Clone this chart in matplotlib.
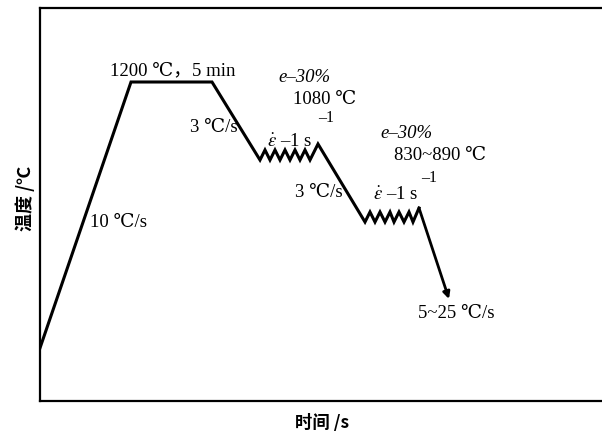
import matplotlib
matplotlib.use("Agg")
import matplotlib.pyplot as plt

plt.rcParams['mathtext.fontset'] = 'stix'
serif = ['Liberation Serif', 'DejaVu Serif', 'Noto Sans CJK SC']
cjk = ['Noto Sans CJK SC', 'DejaVu Sans']

# schematic time / temperature path (arbitrary units)
time = [0, 91, 172, 220, 225, 230, 235, 240, 245, 250, 255, 260, 265, 270, 278,
        325, 330, 335, 340, 345, 350, 354, 359, 364, 369, 373, 379]
temp = [53, 319, 319, 241, 251, 241, 251, 241, 251, 241, 251, 241, 251, 241, 257,
        179, 189, 179, 189, 179, 189, 179, 189, 179, 189, 179, 193]
quench_end = (409, 102)

labels = ["1200 ℃，5 min", "1080 ℃", "3 ℃/s", "830~890 ℃", "3 ℃/s",
          "10 ℃/s", "5~25 ℃/s"]
label_xy = [(70, 330), (253, 301), (150, 273), (354, 246), (255, 209),
            (50, 179), (378, 88)]
strain_xy = [(238, 324), (340, 268)]
rate_xy = [(227, 259), (333, 206)]
rate_sup_xy = [(278, 283), (381, 223)]

fig = plt.figure(figsize=(6.02, 4.37), dpi=100)
ax = fig.add_axes([40/602, 1 - 401/437, 561/602, 393/437])
ax.set_xlim(0, 561)
ax.set_ylim(0, 393)
ax.set_xticks([])
ax.set_yticks([])
ax.spines['right'].set_visible(False)
for s in ['left', 'bottom', 'top']:
    ax.spines[s].set_linewidth(1.6)

ax.plot(time, temp, color='black', lw=2.2, solid_joinstyle='miter')
ax.annotate('', xy=quench_end, xytext=(time[-1], temp[-1]),
            arrowprops=dict(arrowstyle='-|>', color='black', lw=2.0,
                            mutation_scale=10, shrinkA=0, shrinkB=0))

for txt, (x, y) in zip(labels, label_xy):
    ax.text(x, y, txt, ha='left', va='center', fontsize=13.5, family=serif)
for x, y in strain_xy:
    ax.text(x, y, 'e–30%', ha='left', va='center', fontsize=13.5,
            family=serif, style='italic')
for x, y in rate_xy:
    ax.text(x, y, r'$\dot{\varepsilon}$ –1 s', ha='left', va='center',
            fontsize=13.5, family=serif)
for x, y in rate_sup_xy:
    ax.text(x, y, '–1', ha='left', va='center', fontsize=11.5, family=serif)

fig.text(25/602, 1 - 198/437, '温度 /℃', rotation=90, ha='center', va='center',
         fontsize=13, family=cjk, fontweight='bold')
fig.text(322/602, 1 - 423/437, '时间 /s', ha='center', va='center',
         fontsize=12.5, family=cjk, fontweight='bold')

plt.savefig("out.png", dpi=100)
plt.close()
